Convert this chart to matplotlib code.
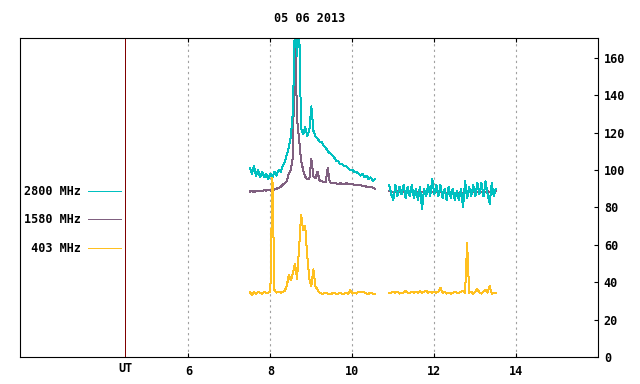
import numpy as np
import matplotlib.pyplot as plt
import matplotlib.transforms as mtransforms
from matplotlib.lines import Line2D

# время, UT (два участка записи)
t_a = np.linspace(7.50, 10.55, 62)
t_b = np.linspace(10.90, 13.50, 53)

# 2800 MHz
f2800_a = [101, 98, 102, 97, 100, 96, 99, 96, 98, 95,
           98, 96, 99, 97, 100, 99, 102, 104, 108, 112,
           118, 131, 180, 161, 180, 122, 119, 123, 118, 121,
           134, 121, 118, 117, 115, 115, 113, 112, 110, 109,
           108, 107, 105, 105, 103, 103, 102, 102, 101, 100,
           100, 99, 99, 98, 97, 98, 96, 97, 95, 96,
           94, 95]
f2800_b = [92, 87, 84, 92, 86, 91, 87, 92, 85, 91,
           86, 92, 85, 90, 84, 91, 79, 90, 86, 92,
           86, 95, 87, 92, 86, 92, 85, 90, 84, 91,
           85, 90, 84, 89, 84, 90, 80, 94, 85, 91,
           86, 92, 86, 93, 87, 93, 86, 94, 87, 82,
           93, 86, 90]

# 1580 MHz
f1580_a = [88.5, 89, 88, 89, 88.5, 89, 88.5, 89.5, 89, 89.5,
           89, 89.5, 89.5, 90, 90.5, 91, 92, 93, 94, 98,
           100, 107, 180, 127, 117, 105, 100, 96.5, 95, 95,
           106, 96.5, 95.5, 99, 94.5, 94, 93.5, 93.5, 101, 93.5,
           93, 93, 93, 92.5, 93, 92.5, 92.5, 93, 92.5, 92.5,
           92.5, 92, 92, 92, 92, 91.5, 91.5, 91, 91, 91,
           90.5, 90]
f1580_b = [89, 88, 88.5, 88, 89, 88, 88.5, 88, 89, 88,
           88.5, 88, 89, 88, 88.5, 87.5, 88.5, 88, 89, 88,
           88.5, 88, 89, 88, 88.5, 88, 88.5, 87.5, 88, 87.5,
           88, 87.5, 88, 87, 88, 87.5, 88, 87.5, 88, 88,
           88.5, 88, 88.5, 88, 89, 88, 88.5, 88, 89, 88,
           88.5, 88, 88.5]

# 403 MHz
f403_a = [35, 33, 35, 34, 35, 34.5, 34, 35, 34.5, 34.5,
          35, 96, 36, 34.5, 35, 34.5, 35, 35.5, 38, 44,
          41, 45, 50, 42, 58, 76, 68, 70, 54, 42,
          38, 47, 38, 36, 34.5, 34, 34, 34.5, 34, 34,
          34, 34.5, 34, 34, 34.5, 34, 34, 34.5, 34, 36,
          34, 34.5, 34, 35, 35, 35, 34.5, 34, 34, 34.5,
          34, 34]
f403_b = [34.5, 34.5, 35, 34.5, 35, 34, 34.5, 34.5, 35.5, 34.5,
          34.5, 35, 34.5, 35, 34.5, 35.5, 34.5, 35, 35.5, 34.5,
          35, 34.5, 35, 34.5, 35, 37, 34.5, 35, 34, 34.5,
          34, 34.5, 35, 34.5, 34.5, 35, 35.5, 34.5, 61, 34.5,
          35, 34, 35, 36.5, 34.5, 34, 35, 36, 34.5, 38,
          34, 34.5, 34.5]

labels = ['2800 MHz', '1580 MHz', ' 403 MHz']
colors = ['#00c0c0', '#806080', '#ffc020']
xticks = [6, 8, 10, 12, 14]
yticks = [0, 20, 40, 60, 80, 100, 120, 140, 160]
ut_pos = 4.46
title = '05 06 2013'

plt.rcParams['font.family'] = 'DejaVu Sans Mono'
plt.rcParams['font.weight'] = 'bold'
plt.rcParams['font.size'] = 8.5

W, H = 640, 384
LW = 0.72  # 1 пиксель
fig = plt.figure(figsize=(6.4, 3.84), dpi=100)
ax = fig.add_axes([20.3 / W, (H - 357.3) / H, 578 / W, 319 / H])

# порядок: 1580 снизу, 2800 поверх, 403 сверху
series = [(f1580_a, f1580_b, colors[1]),
          (f2800_a, f2800_b, colors[0]),
          (f403_a, f403_b, colors[2])]
for ya, yb, c in series:
    ax.plot(t_a, ya, color=c, lw=LW, antialiased=False)
    ax.plot(t_b, yb, color=c, lw=LW, antialiased=False)

ax.set_xlim(1.9, 16.0)
ax.set_ylim(0, 170.3)
ax.axvline(ut_pos, color='#800000', lw=LW, antialiased=False)

ax.set_xticks(xticks)
ax.set_xticklabels([str(v) for v in xticks])
ax.set_yticks(yticks)
ax.yaxis.tick_right()
ax.tick_params(axis='x', direction='in', length=3, width=0.8,
               top=True, bottom=True, pad=5.5)
ax.tick_params(axis='y', direction='in', length=3, width=0.8,
               left=False, right=True, labelleft=False, labelright=True, pad=4)
ax.grid(axis='x', color='#a0a0a0', linestyle=(0, (2, 3)), lw=0.8)
for s in ax.spines.values():
    s.set_linewidth(0.8)

trans = mtransforms.blended_transform_factory(ax.transData, ax.transAxes)
ax.text(ut_pos, -0.0345, 'UT', transform=trans, ha='center', va='center')

fig.text(309.3 / W, 1 - 18.7 / H, title, ha='center', va='center')

# легенда слева
leg_y = [191.3, 219.3, 248.3]
for lab, c, y in zip(labels, colors, leg_y):
    fig.text(80.5 / W, 1 - y / H, lab, ha='right', va='center')
    fig.add_artist(Line2D([88.3 / W, 120.7 / W], [1 - y / H, 1 - y / H],
                          color=c, lw=LW, antialiased=False))

fig.savefig('out.png', dpi=100)
